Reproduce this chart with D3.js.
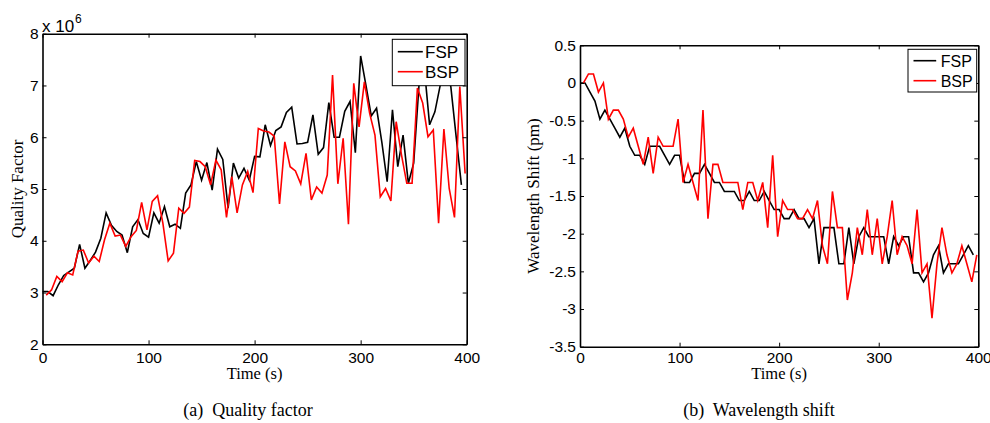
<!DOCTYPE html>
<html>
<head>
<meta charset="utf-8">
<script src="https://cdn.jsdelivr.net/npm/d3@7"></script>
<style>
  body { margin: 0; background: #fff; }
  .tick text { font-family: "Liberation Sans", Arial, sans-serif; font-size: 15.5px; fill: #000; }
  .serif { font-family: "Liberation Serif", "Times New Roman", serif; fill: #000; }
  .sans { font-family: "Liberation Sans", Arial, sans-serif; fill: #000; }
</style>
</head>
<body>
<script>
// sample times (s)
const fspTime = [0, 5, 10, 15, 20, 25, 30, 35, 40, 45, 50, 55, 60, 65, 70, 75, 80, 85, 90, 95,
  100, 105, 110, 115, 120, 125, 130, 135, 140, 145, 150, 155, 160, 165, 170, 175, 180, 185, 190, 195,
  200, 205, 210, 215, 220, 225, 230, 235, 240, 245, 250, 255, 260, 265, 270, 275, 280, 285, 290, 295,
  300, 305, 310, 315, 320, 325, 330, 335, 340, 345, 350, 355, 360, 365, 370, 375, 380, 385, 390, 395];
const bspTime = [3.5, 8.5, 13.5, 18.5, 23.5, 28.5, 33.5, 38.5, 43.5, 48.5, 53.5, 58.5, 63.5, 68.5, 73.5, 78.5,
  83.5, 88.5, 93.5, 98.5, 103.5, 108.5, 113.5, 118.5, 123.5, 128.5, 133.5, 138.5, 143.5, 148.5, 153.5, 158.5,
  163.5, 168.5, 173.5, 178.5, 183.5, 188.5, 193.5, 198.5, 203.5, 208.5, 213.5, 218.5, 223.5, 228.5, 233.5, 238.5,
  243.5, 248.5, 253.5, 258.5, 263.5, 268.5, 273.5, 278.5, 283.5, 288.5, 293.5, 298.5, 303.5, 308.5, 313.5, 318.5,
  323.5, 328.5, 333.5, 338.5, 343.5, 348.5, 353.5, 358.5, 363.5, 368.5, 373.5, 378.5, 383.5, 388.5, 393.5, 398.5];

// quality factor (x 10^6)
const qualityFsp = [3.02, 3.02, 2.94, 3.15, 3.33, 3.4, 3.47, 3.93, 3.47, 3.62,
  3.78, 4.05, 4.54, 4.3, 4.18, 4.11, 3.77, 4.27, 4.41, 4.14,
  4.07, 4.54, 4.34, 4.66, 4.27, 4.32, 4.24, 4.92, 5.08, 5.53,
  5.17, 5.51, 4.98, 5.77, 5.57, 4.63, 5.5, 5.21, 5.4, 5.17,
  5.63, 5.62, 6.24, 5.84, 6.13, 6.2, 6.48, 6.58, 5.87, 5.88,
  5.9, 6.43, 5.67, 5.8, 6.67, 6.0, 6.0, 6.5, 6.69, 5.7,
  7.57, 7.0, 6.41, 6.56, 5.9, 5.14, 6.53, 5.43, 6.04, 5.11,
  5.5, 7.0, 7.35, 6.24, 6.49, 7.0, 7.3, 6.98, 6.02, 5.08];
const qualityBsp = [2.95, 3.05, 3.31, 3.21, 3.38, 3.34, 3.8, 3.82, 3.57, 3.7,
  3.6, 4.02, 4.34, 4.09, 4.11, 3.89, 4.08, 4.2, 4.74, 4.21,
  4.76, 4.87, 4.34, 3.61, 3.76, 4.63, 4.53, 4.65, 5.55, 5.53,
  5.43, 5.08, 5.56, 5.37, 4.45, 5.24, 4.54, 5.08, 5.34, 4.93,
  6.17, 6.12, 6.1, 6.02, 4.71, 5.91, 5.43, 5.35, 5.1, 5.69,
  4.79, 5.04, 4.92, 5.27, 7.2, 5.1, 5.98, 4.32, 7.04, 6.2,
  7.07, 6.46, 6.04, 4.85, 5.01, 4.77, 6.3, 5.66, 5.11, 5.11,
  6.95, 6.66, 6.01, 6.14, 4.34, 6.16, 5.01, 4.45, 6.98, 5.3];

// wavelength shift (pm)
const shiftFsp = [0, 0, -0.12, -0.24, -0.48, -0.36, -0.48, -0.6, -0.72, -0.6,
  -0.84, -0.96, -0.96, -1.08, -0.84, -0.84, -0.84, -0.96, -1.08, -0.96,
  -0.96, -1.32, -1.32, -1.2, -1.2, -1.08, -1.2, -1.32, -1.32, -1.44,
  -1.44, -1.44, -1.56, -1.56, -1.44, -1.56, -1.56, -1.44, -1.56, -1.68,
  -1.68, -1.8, -1.8, -1.68, -1.8, -1.8, -1.92, -1.8, -2.4, -1.92,
  -1.92, -1.92, -2.4, -2.4, -1.92, -2.4, -2.04, -1.92, -2.04, -2.04,
  -2.04, -2.04, -2.4, -2.04, -2.16, -2.04, -2.04, -2.52, -2.52, -2.64,
  -2.52, -2.28, -2.16, -2.52, -2.4, -2.4, -2.4, -2.28, -2.16, -2.28];
const shiftBsp = [0, 0.12, 0.12, -0.12, 0, -0.48, -0.36, -0.36, -0.48, -0.72,
  -0.6, -0.84, -1.08, -0.72, -1.2, -0.72, -0.84, -0.84, -0.84, -0.48,
  -1.32, -1.08, -1.32, -1.56, -0.36, -1.8, -1.08, -1.08, -1.32, -1.32,
  -1.32, -1.32, -1.68, -1.32, -1.32, -1.56, -1.32, -1.92, -0.96, -2.04,
  -1.56, -1.68, -1.68, -1.8, -1.8, -1.68, -1.8, -1.56, -2.16, -2.4,
  -1.44, -1.92, -1.92, -2.88, -2.52, -1.92, -2.28, -1.68, -2.28, -1.8,
  -2.4, -2.04, -1.56, -2.28, -2.04, -2.16, -2.4, -1.68, -2.52, -2.4,
  -3.12, -2.4, -1.92, -2.28, -2.52, -2.4, -2.16, -2.4, -2.64, -2.28];

const timeTicks = [0, 100, 200, 300, 400];
const qualityTicks = [2, 3, 4, 5, 6, 7, 8];
const shiftTicks = [0.5, 0, -0.5, -1, -1.5, -2, -2.5, -3, -3.5];
const seriesNames = ["FSP", "BSP"];
const seriesColors = ["#000000", "#ff0000"];

const svg = d3.select("body")
  .append("svg")
  .attr("width", 990)
  .attr("height", 423);

function drawPanel(p) {
  const xScale = d3.scaleLinear([0, 400], [p.left, p.right]);
  const yScale = d3.scaleLinear(p.yDomain, [p.bottom, p.top]);
  const g = svg.append("g");

  const series = [
    fspTime.map((t, i) => ({ t: t, v: p.fsp[i] })),
    bspTime.map((t, i) => ({ t: t, v: p.bsp[i] }))
  ];

  const dMaker = d3.line()
    .x(d => xScale(d.t))
    .y(d => yScale(d.v));

  g.append("g")
    .selectAll("path")
    .data(series)
    .enter()
    .append("path")
    .attr("fill", "none")
    .attr("stroke", (d, i) => seriesColors[i])
    .attr("stroke-width", 1.6)
    .attr("stroke-linejoin", "miter")
    .attr("d", d => dMaker(d));

  // axes, ticks inward on all four sides
  const tick = 4;
  g.append("g")
    .attr("transform", `translate(0, ${p.bottom})`)
    .call(d3.axisBottom(xScale).tickValues(timeTicks).tickSizeInner(-tick).tickSizeOuter(0)
      .tickPadding(p.xPad).tickFormat(d => String(d)));
  g.append("g")
    .attr("transform", `translate(0, ${p.top})`)
    .call(d3.axisTop(xScale).tickValues(timeTicks).tickSizeInner(-tick).tickSizeOuter(0).tickFormat(""));
  g.append("g")
    .attr("transform", `translate(${p.left}, 0)`)
    .call(d3.axisLeft(yScale).tickValues(p.yTicks).tickSizeInner(-tick).tickSizeOuter(0)
      .tickPadding(p.yPad).tickFormat(d => String(d)));
  g.append("g")
    .attr("transform", `translate(${p.right}, 0)`)
    .call(d3.axisRight(yScale).tickValues(p.yTicks).tickSizeInner(-tick).tickSizeOuter(0).tickFormat(""));

  g.selectAll(".domain").attr("stroke", "#000").attr("stroke-width", 1.6);
  g.selectAll(".tick line").attr("stroke", "#000").attr("stroke-width", 1);
  g.selectAll(".tick text").attr("fill", "#000");

  // axis titles
  g.append("text")
    .attr("class", "serif")
    .attr("font-size", 16.5)
    .attr("text-anchor", "middle")
    .attr("x", (p.left + p.right) / 2)
    .attr("y", 378.5)
    .text("Time (s)");
  g.append("text")
    .attr("class", "serif")
    .attr("font-size", 17)
    .attr("text-anchor", "middle")
    .attr("transform", `translate(${p.yTitleX}, ${(p.top + p.bottom) / 2}) rotate(-90)`)
    .text(p.yTitle);

  // caption
  g.append("text")
    .attr("class", "serif")
    .attr("font-size", 18)
    .attr("text-anchor", "middle")
    .attr("xml:space", "preserve")
    .attr("x", p.captionX)
    .attr("y", 416)
    .text(p.caption);

  // legend
  const lg = g.append("g");
  lg.append("rect")
    .attr("x", p.legend.x).attr("y", p.legend.y)
    .attr("width", p.legend.w).attr("height", p.legend.h)
    .attr("fill", "#fff").attr("stroke", "#000").attr("stroke-width", 1);
  seriesNames.forEach((name, i) => {
    const ly = p.legend.y + p.legend.first + i * 20;
    lg.append("line")
      .attr("x1", p.legend.x + 5.5).attr("x2", p.legend.x + 5.5 + p.legend.line)
      .attr("y1", ly).attr("y2", ly)
      .attr("stroke", seriesColors[i]).attr("stroke-width", 1.6);
    lg.append("text")
      .attr("class", "sans")
      .attr("font-size", p.legend.font)
      .attr("x", p.legend.x + p.legend.textX)
      .attr("y", ly + p.legend.font * 0.37)
      .text(name);
  });
}

drawPanel({
  left: 42.5, right: 466.7, top: 33.7, bottom: 344.3,
  yDomain: [2, 8], yTicks: qualityTicks,
  fsp: qualityFsp, bsp: qualityBsp,
  xPad: 7.5, yPad: 4,
  yTitle: "Quality Factor", yTitleX: 22.5,
  caption: "(a)  Quality factor", captionX: 248,
  legend: { x: 392.3, y: 39.3, w: 72.7, h: 46.4, first: 12.4, line: 25, textX: 32.7, font: 17 }
});

drawPanel({
  left: 580, right: 978.3, top: 45.3, bottom: 346.7,
  yDomain: [-3.5, 0.5], yTicks: shiftTicks,
  fsp: shiftFsp, bsp: shiftBsp,
  xPad: 5, yPad: 4,
  yTitle: "Wavelength Shift (pm)", yTitleX: 538.5,
  caption: "(b)  Wavelength shift", captionX: 759,
  legend: { x: 908, y: 49.3, w: 68.7, h: 42.7, first: 11.4, line: 22.7, textX: 32.7, font: 16 }
});

// exponent label of the quality axis
svg.append("text")
  .attr("class", "sans")
  .attr("font-size", 17)
  .attr("x", 42)
  .attr("y", 31.5)
  .text("x 10");
svg.append("text")
  .attr("class", "sans")
  .attr("font-size", 12)
  .attr("x", 75)
  .attr("y", 23)
  .text("6");
</script>
</body>
</html>
